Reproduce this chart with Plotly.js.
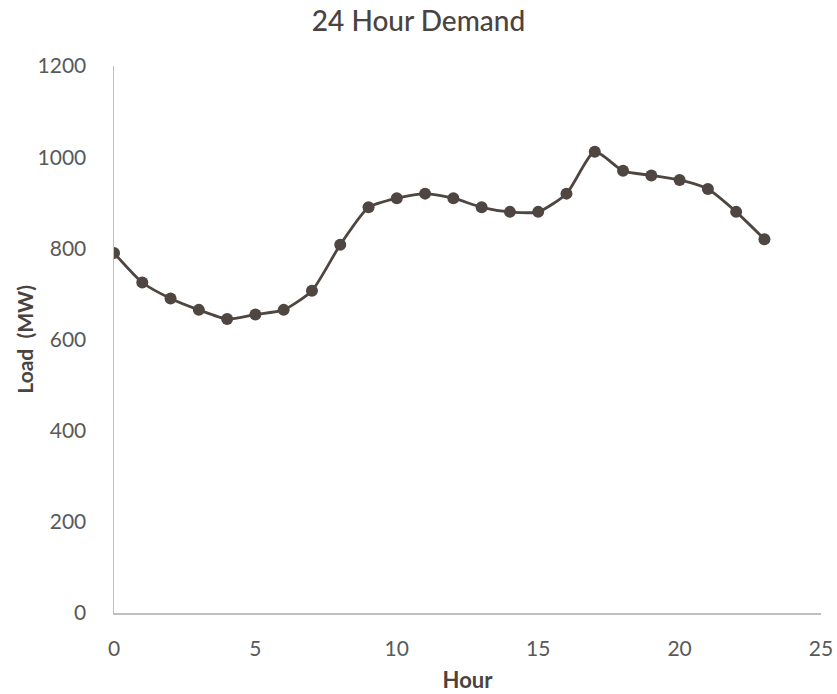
<!DOCTYPE html>
<html>
<head>
<meta charset="utf-8">
<script src="https://cdn.plot.ly/plotly-3.0.1.min.js"></script>
<style>
  html, body { margin: 0; padding: 0; background: #ffffff; }
  #chart { width: 837px; height: 694px; }
</style>
</head>
<body>
<div id="chart"></div>
<script>
// Hourly system load over one day
const hours = [0, 1, 2, 3, 4, 5, 6, 7, 8, 9, 10, 11, 12, 13, 14, 15, 16, 17, 18, 19, 20, 21, 22, 23];
const loadMW = [790, 725, 690, 665, 645, 655, 665, 707, 808, 890, 910, 920, 910, 890, 880, 880, 920, 1012, 970, 960, 950, 930, 880, 820];

const xTicks = [0, 5, 10, 15, 20, 25];
const yTicks = [0, 200, 400, 600, 800, 1000, 1200];

const ink = '#4f4541';
const tickColor = '#595959';
const labelColor = '#4a4340';
const fontFamily = 'Lato, "Noto Sans", sans-serif';

const trace = {
  x: hours,
  y: loadMW,
  type: 'scatter',
  mode: 'lines+markers',
  line: { color: ink, width: 2.8, shape: 'spline', smoothing: 0.6 },
  marker: { color: ink, size: 12 },
  hoverinfo: 'x+y'
};

const layout = {
  width: 837,
  height: 694,
  margin: { l: 114, r: 16, t: 66, b: 81 },
  paper_bgcolor: '#ffffff',
  plot_bgcolor: '#ffffff',
  showlegend: false,
  font: { family: fontFamily, color: tickColor, size: 21 },
  title: {
    text: '24 Hour Demand',
    x: 0.5,
    xref: 'container',
    xanchor: 'center',
    y: 0.97,
    yref: 'container',
    yanchor: 'middle',
    font: { family: fontFamily, size: 28, color: labelColor, weight: 500 }
  },
  xaxis: {
    range: [0, 25],
    tickvals: xTicks,
    ticktext: xTicks.map(String),
    showgrid: false,
    zeroline: false,
    showline: true,
    linecolor: '#bfbfbf',
    linewidth: 1.5,
    ticks: '',
    ticklabelstandoff: 16,
    tickfont: { size: 21, color: tickColor },
    title: {
      text: 'Hour',
      font: { size: 22, color: labelColor, weight: 'bold' },
      standoff: 14
    }
  },
  yaxis: {
    range: [0, 1200],
    tickvals: yTicks,
    ticktext: yTicks.map(String),
    showgrid: false,
    zeroline: false,
    showline: true,
    linecolor: '#bfbfbf',
    linewidth: 1.5,
    ticks: '',
    ticklabelstandoff: 22,
    tickfont: { size: 21, color: tickColor }
  },
  annotations: [{
    // vertical axis label, placed a little closer to the tick labels than the default title
    text: 'Load  (MW)',
    xref: 'paper',
    yref: 'paper',
    x: -0.127,
    y: 0.5,
    xanchor: 'center',
    yanchor: 'middle',
    textangle: -90,
    showarrow: false,
    font: { family: fontFamily, size: 21, color: labelColor, weight: 'bold' }
  }]
};

Plotly.newPlot('chart', [trace], layout, { displayModeBar: false, staticPlot: true });
</script>
</body>
</html>
